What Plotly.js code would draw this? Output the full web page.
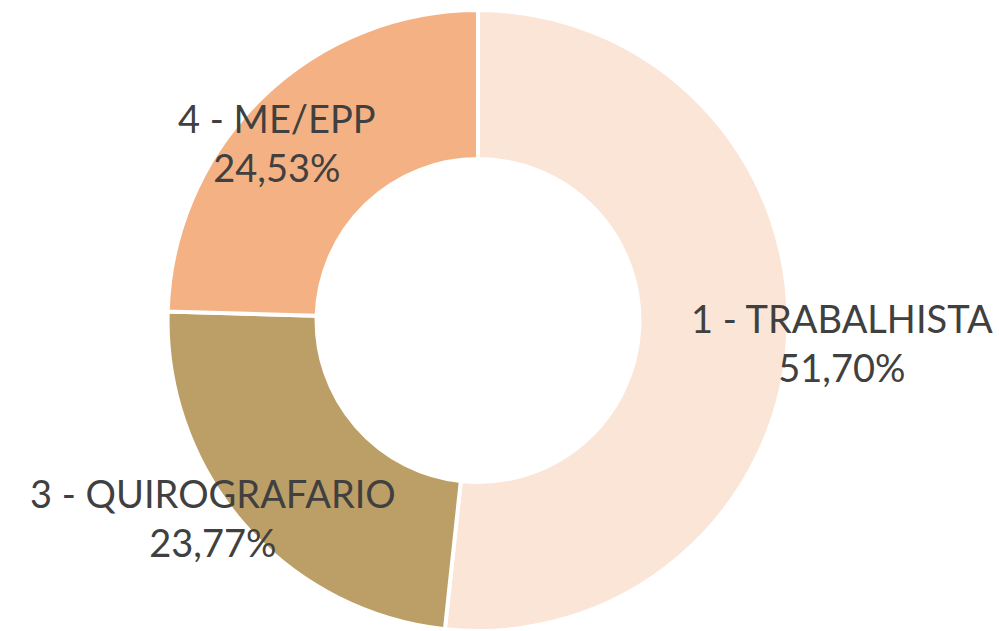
<!DOCTYPE html>
<html>
<head>
<meta charset="utf-8">
<script src="https://cdn.plot.ly/plotly-3.0.1.min.js"></script>
<style>html,body{margin:0;padding:0;background:#fff;}#chart{width:999px;height:631px;}</style>
</head>
<body>
<div id="chart"></div>
<script>
var categories = ["1 - TRABALHISTA", "3 - QUIROGRAFARIO", "4 - ME/EPP"];
var values = [51.70, 23.77, 24.53];
var colors = ["#FAE5D7", "#BC9F66", "#F4B183"];
// label anchor positions (paper coordinates)
var labelX = [0.843, 0.213, 0.277];
var labelY = [0.457, 0.180, 0.774];

function fmt(v) { return v.toFixed(2).replace(".", ",") + "%"; }

var trace = {
  type: "pie",
  labels: categories,
  values: values,
  sort: false,
  direction: "clockwise",
  rotation: 0,
  hole: 0.52,
  marker: { colors: colors, line: { color: "#ffffff", width: 4 } },
  textinfo: "none",
  hoverinfo: "label+percent",
  domain: { x: [0.1672, 0.7898], y: [0, 0.984] }
};

var annotations = categories.map(function (c, i) {
  return {
    xref: "paper", yref: "paper",
    x: labelX[i], y: labelY[i],
    xanchor: "center", yanchor: "middle",
    text: c + "<br>" + fmt(values[i]),
    showarrow: false,
    font: { family: "Lato, 'Open Sans', sans-serif", size: 38, color: "#404040" }
  };
});

var layout = {
  width: 999, height: 631,
  margin: { l: 0, r: 0, t: 0, b: 0 },
  paper_bgcolor: "#ffffff",
  showlegend: false,
  annotations: annotations
};

Plotly.newPlot("chart", [trace], layout, { displayModeBar: false, staticPlot: true });
</script>
</body>
</html>
